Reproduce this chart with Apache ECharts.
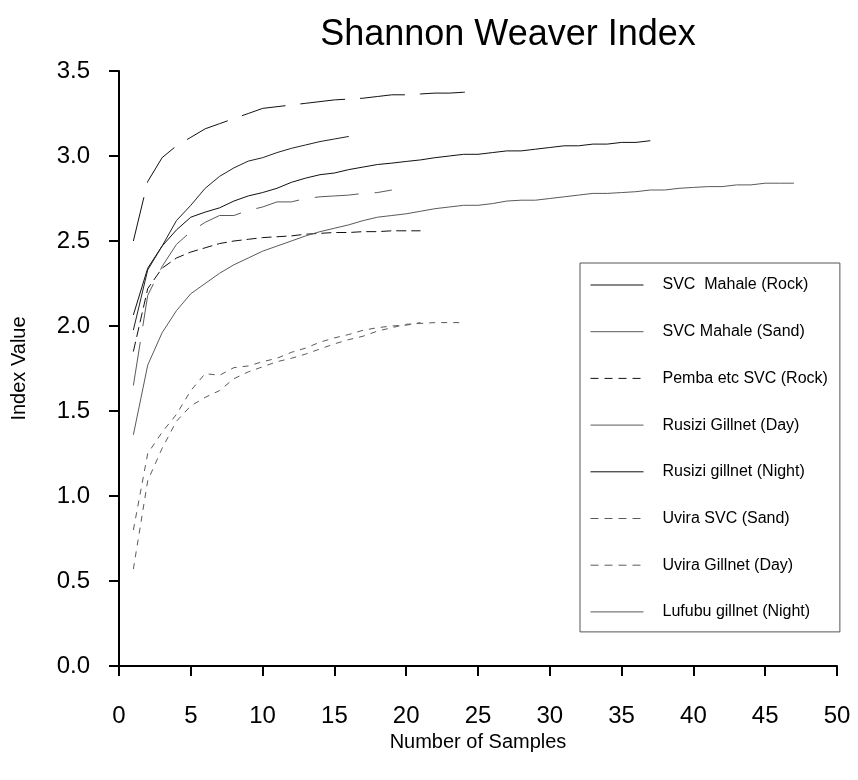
<!DOCTYPE html>
<html>
<head>
<meta charset="utf-8">
<script src="https://cdn.jsdelivr.net/npm/echarts@6/dist/echarts.min.js"></script>
<style>
  html, body { margin: 0; padding: 0; background: #fff; }
  #chart { width: 858px; height: 780px; }
</style>
</head>
<body>
<div id="chart"></div>
<script>
// series names, in legend order
const seriesNames = [
  'SVC  Mahale (Rock)',
  'SVC Mahale (Sand)',
  'Pemba etc SVC (Rock)',
  'Rusizi Gillnet (Day)',
  'Rusizi gillnet (Night)',
  'Uvira SVC (Sand)',
  'Uvira Gillnet (Day)',
  'Lufubu gillnet (Night)'
];

// index value after 1, 2, 3 ... samples
const mahaleRock = [2.50, 2.85, 2.99, 3.06, 3.11, 3.16, 3.19, 3.22, 3.25, 3.28, 3.29, 3.30, 3.31,
  3.32, 3.33, 3.335, 3.34, 3.35, 3.36, 3.36, 3.365, 3.37, 3.37, 3.375, 3.38];
const mahaleSand = [1.65, 2.18, 2.35, 2.48, 2.555, 2.61, 2.65, 2.65, 2.68, 2.70, 2.73, 2.73, 2.75,
  2.76, 2.765, 2.77, 2.78, 2.785, 2.80];
const pembaRock = [1.85, 2.22, 2.34, 2.40, 2.435, 2.46, 2.485, 2.50, 2.51, 2.52, 2.525, 2.53, 2.54,
  2.545, 2.55, 2.55, 2.555, 2.555, 2.56, 2.56, 2.56];
const rusiziDay = [1.36, 1.77, 1.96, 2.09, 2.19, 2.25, 2.31, 2.36, 2.40, 2.44, 2.47, 2.50, 2.53,
  2.555, 2.575, 2.595, 2.62, 2.64, 2.65, 2.66, 2.675, 2.69, 2.70, 2.71, 2.71, 2.72, 2.735, 2.74,
  2.74, 2.75, 2.76, 2.77, 2.78, 2.78, 2.785, 2.79, 2.80, 2.80, 2.81, 2.815, 2.82, 2.82, 2.83,
  2.83, 2.84, 2.84, 2.84];
const rusiziNight = [2.065, 2.34, 2.47, 2.565, 2.64, 2.67, 2.695, 2.735, 2.765, 2.785, 2.81, 2.845,
  2.87, 2.89, 2.90, 2.92, 2.935, 2.95, 2.958, 2.968, 2.977, 2.99, 3.00, 3.01, 3.01, 3.02, 3.03,
  3.03, 3.04, 3.05, 3.06, 3.06, 3.07, 3.07, 3.08, 3.08, 3.09];
const uviraSand = [0.80, 1.25, 1.375, 1.48, 1.62, 1.72, 1.71, 1.755, 1.765, 1.79, 1.81, 1.845,
  1.87, 1.905, 1.93, 1.95, 1.975, 1.99, 2.00, 2.005, 2.02];
const uviraDay = [0.57, 1.09, 1.28, 1.44, 1.53, 1.58, 1.62, 1.69, 1.73, 1.76, 1.79, 1.81, 1.835,
  1.865, 1.895, 1.92, 1.94, 1.97, 1.99, 2.01, 2.015, 2.02, 2.02, 2.02];
const lufubuNight = [1.976, 2.33, 2.47, 2.62, 2.71, 2.81, 2.88, 2.93, 2.97, 2.99, 3.02, 3.045,
  3.065, 3.085, 3.10, 3.115];

const seriesValues = [mahaleRock, mahaleSand, pembaRock, rusiziDay, rusiziNight, uviraSand, uviraDay, lufubuNight];

// line look on the plot
const BLACK = '#111';
const GRAY = '#5a5a5a';
const plotStyles = [
  { color: BLACK, type: [45, 15] },
  { color: GRAY, type: [44, 16] },
  { color: BLACK, type: [10, 5] },
  { color: GRAY, type: 'solid' },
  { color: BLACK, type: 'solid' },
  { color: GRAY, type: [6, 6] },
  { color: GRAY, type: [6, 6] },
  { color: '#222', type: 'solid' }
];
// line look in the legend box
const legendStyles = [
  { color: BLACK, type: 'solid' },
  { color: GRAY, type: 'solid' },
  { color: BLACK, type: [8, 6] },
  { color: GRAY, type: 'solid' },
  { color: BLACK, type: 'solid' },
  { color: GRAY, type: [8, 6] },
  { color: GRAY, type: [8, 6] },
  { color: GRAY, type: 'solid' }
];

const SANS = '"Liberation Sans", Arial, sans-serif';

const chart = echarts.init(document.getElementById('chart'), null, { renderer: 'canvas' });

const series = seriesNames.map((name, i) => ({
  name: name,
  type: 'line',
  symbol: 'none',
  smooth: false,
  animation: false,
  data: seriesValues[i].map((v, k) => [k + 1, v]),
  lineStyle: { color: plotStyles[i].color, type: plotStyles[i].type, width: 1 },
  itemStyle: { color: plotStyles[i].color }
}));

const axisCommon = {
  axisLine: { show: true, onZero: false, lineStyle: { color: '#000', width: 2 } },
  axisTick: { show: true, inside: false, length: 10, lineStyle: { color: '#000', width: 2 } },
  splitLine: { show: false }
};

chart.setOption({
  backgroundColor: '#fff',
  animation: false,
  title: {
    text: 'Shannon Weaver Index',
    left: 503,
    top: 12,
    textAlign: 'center',
    textStyle: { fontFamily: SANS, fontSize: 36, fontWeight: 'normal', color: '#000' }
  },
  grid: { left: 119, right: 21, top: 71, bottom: 114 },
  xAxis: Object.assign({
    type: 'value',
    min: 0,
    max: 50,
    interval: 5,
    name: 'Number of Samples',
    nameLocation: 'middle',
    nameGap: 64,
    nameTextStyle: { fontFamily: SANS, fontSize: 20, color: '#000' },
    axisLabel: { margin: 38, fontFamily: SANS, fontSize: 24, color: '#000' }
  }, axisCommon),
  yAxis: Object.assign({
    type: 'value',
    min: 0,
    max: 3.5,
    interval: 0.5,
    name: 'Index Value',
    nameLocation: 'middle',
    nameGap: 90,
    nameTextStyle: { fontFamily: SANS, fontSize: 20, color: '#000' },
    axisLabel: {
      margin: 29, fontFamily: SANS, fontSize: 24, color: '#000',
      formatter: v => v.toFixed(1)
    }
  }, axisCommon),
  legend: {
    orient: 'vertical',
    left: 580,
    top: 263,
    padding: [12, 12, 10, 10],
    itemWidth: 53,
    itemHeight: 14,
    itemGap: 26.7,
    borderColor: '#555',
    borderWidth: 1,
    selectedMode: false,
    textStyle: { fontFamily: SANS, fontSize: 16, lineHeight: 20, color: '#000', padding: [0, 0, 0, 14] },
    data: seriesNames.map((name, i) => ({
      name: name,
      itemStyle: { opacity: 0 },
      lineStyle: { color: legendStyles[i].color, type: legendStyles[i].type, width: 1 }
    }))
  },
  series: series
});
</script>
</body>
</html>
